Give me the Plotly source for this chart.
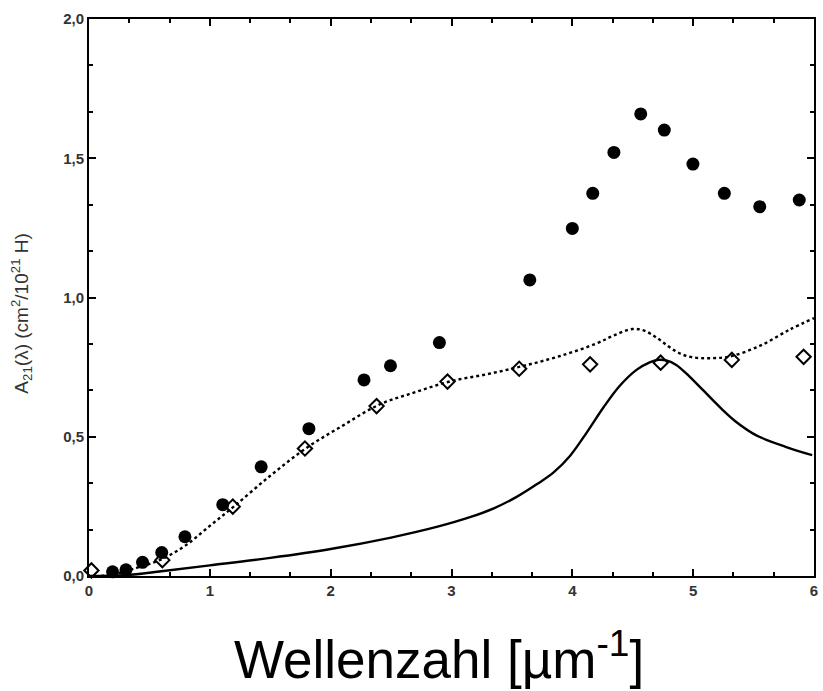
import plotly.graph_objects as go

# Measured absorption cross-section (filled circles)
meas_x = [0.195, 0.306, 0.443, 0.602, 0.794, 1.107, 1.425, 1.82, 2.276, 2.495, 2.90,
          3.648, 4.0, 4.169, 4.344, 4.566, 4.761, 4.998, 5.258, 5.551, 5.878]
meas_y = [0.015, 0.022, 0.049, 0.084, 0.141, 0.256, 0.392, 0.529, 0.704, 0.755, 0.838,
          1.063, 1.248, 1.374, 1.521, 1.659, 1.601, 1.479, 1.374, 1.326, 1.350]

# Second data set (open diamonds)
diam_x = [0.02, 0.607, 1.19, 1.787, 2.38, 2.967, 3.56, 4.147, 4.731, 5.32, 5.914]
diam_y = [0.02, 0.057, 0.249, 0.458, 0.610, 0.698, 0.744, 0.760, 0.766, 0.776, 0.787]

# Model curve (dotted)
dot_x = [0.1, 0.2, 0.4, 0.6, 0.8, 1.0, 1.2, 1.5, 1.8, 2.1, 2.4, 2.7, 3.0, 3.3, 3.6,
         3.9, 4.2, 4.35, 4.5, 4.6, 4.7, 4.8, 4.9, 5.0, 5.13, 5.3, 5.55, 5.8, 6.0]
dot_y = [0.0, 0.005, 0.03, 0.06, 0.11, 0.18, 0.25, 0.36, 0.46, 0.54, 0.615, 0.66, 0.70,
         0.725, 0.755, 0.79, 0.835, 0.865, 0.887, 0.88, 0.855, 0.823, 0.797, 0.785,
         0.782, 0.788, 0.826, 0.885, 0.926]

# Model curve (solid)
sol_x = [0.0, 0.3, 0.6, 1.0, 1.5, 2.0, 2.5, 2.885, 3.159, 3.35, 3.543, 3.708, 3.845,
         3.982, 4.119, 4.257, 4.393, 4.531, 4.64, 4.71, 4.778, 4.86, 4.97, 5.08, 5.245,
         5.354, 5.519, 5.765, 5.985]
sol_y = [0.0, 0.003, 0.017, 0.038, 0.065, 0.097, 0.138, 0.177, 0.212, 0.243, 0.285,
         0.33, 0.372, 0.432, 0.515, 0.605, 0.683, 0.740, 0.767, 0.776, 0.774, 0.758,
         0.716, 0.668, 0.596, 0.554, 0.506, 0.464, 0.434]

fig = go.Figure()
fig.add_trace(go.Scatter(x=sol_x, y=sol_y, mode="lines",
                         line=dict(color="black", width=2.4, shape="spline", smoothing=1.0)))
fig.add_trace(go.Scatter(x=dot_x, y=dot_y, mode="lines",
                         line=dict(color="black", width=2.4, dash="dot", shape="spline", smoothing=1.0)))
fig.add_trace(go.Scatter(x=diam_x, y=diam_y, mode="markers", cliponaxis=False,
                         marker=dict(symbol="diamond-open", size=11, color="black",
                                     line=dict(width=2, color="black"))))
fig.add_trace(go.Scatter(x=meas_x, y=meas_y, mode="markers", cliponaxis=False,
                         marker=dict(symbol="circle", size=13, color="black")))

axis_common = dict(
    showline=True, linecolor="black", linewidth=2, mirror="allticks",
    ticks="inside", ticklen=7, tickwidth=2, tickcolor="black",
    showgrid=False, zeroline=False,
    tickfont=dict(family="Liberation Sans, Arial", size=15, color="#333333", weight="bold"),
)

fig.update_xaxes(range=[0, 6], dtick=1, tickformat="d",
                 minor=dict(dtick=1/3, ticks="inside", ticklen=4, tickwidth=1.5, tickcolor="black"),
                 **axis_common)
fig.update_yaxes(range=[0, 2.0], dtick=0.5, tickformat=".1f",
                 minor=dict(dtick=1/6, ticks="inside", ticklen=4, tickwidth=1.5, tickcolor="black"),
                 **axis_common)

fig.add_annotation(text="A<sub>21</sub>(λ) (cm<sup>2</sup>/10<sup>21</sup> H)",
                   xref="paper", yref="paper", x=-0.093, y=0.472, textangle=-90,
                   showarrow=False, xanchor="center", yanchor="middle",
                   font=dict(family="Liberation Sans, Arial", size=19, color="#333333"))
fig.add_annotation(text="Wellenzahl [µm<sup>-1</sup>]",
                   xref="paper", yref="paper", x=0.4825, y=-0.142,
                   showarrow=False, xanchor="center", yanchor="middle",
                   font=dict(family="Liberation Sans, Arial", size=53, color="black"))

fig.update_layout(
    width=823, height=691,
    margin=dict(l=89, r=5, t=19, b=115),
    paper_bgcolor="white", plot_bgcolor="white",
    showlegend=False, separators=",.",
)

fig.write_html("out.html")
